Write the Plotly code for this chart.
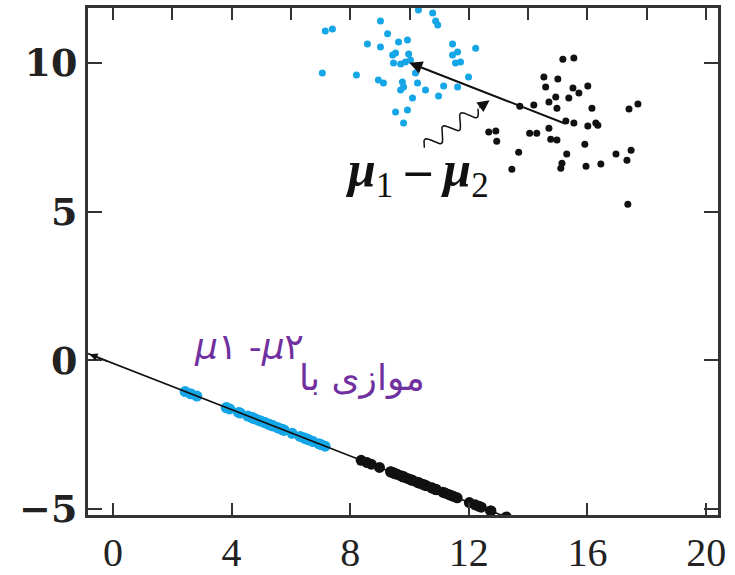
import numpy as np
import plotly.graph_objects as go

# ---- data ----
blue_x = [7.16, 7.40, 9.02, 10.30, 10.78, 10.88, 10.95, 9.26, 8.58, 9.02, 9.63, 9.93,
          9.53, 9.43, 9.97, 9.46, 9.70, 9.86, 10.03, 7.06, 8.21, 8.95, 9.12, 10.20,
          10.27, 9.76, 9.80, 9.70, 10.10, 10.54, 11.15, 10.98, 11.45, 11.62, 11.45,
          11.55, 11.72, 12.23, 11.99, 11.62, 9.93, 9.53, 9.80]
blue_y = [11.08, 11.14, 11.41, 11.78, 11.68, 11.41, 11.28, 10.98, 10.64, 10.54, 10.71, 10.77,
          10.34, 10.27, 10.30, 10.00, 9.97, 10.03, 10.10, 9.66, 9.60, 9.43, 9.33, 9.66,
          9.33, 9.36, 9.19, 9.09, 8.82, 9.09, 9.23, 8.89, 10.64, 10.37, 10.27,
          10.00, 10.03, 10.50, 9.53, 9.19, 8.42, 8.35, 7.98]

black_x = [15.17, 15.54, 14.53, 15.00, 14.59, 15.51, 15.71, 16.01, 15.37, 14.93, 14.70,
           14.97, 14.19, 13.72, 16.15, 17.40, 17.70, 15.27, 15.54, 16.01, 16.28, 16.35,
           12.67, 12.91, 12.94, 14.05, 14.29, 14.70, 14.76, 14.97, 15.91, 13.68, 15.30,
           16.96, 17.47, 17.33, 15.14, 15.10, 15.95, 16.45, 13.45, 17.36]
black_y = [10.13, 10.17, 9.53, 9.46, 9.19, 9.16, 8.99, 9.23, 8.82, 8.86, 8.69,
           8.48, 8.59, 8.55, 8.48, 8.45, 8.62, 8.05, 7.98, 7.88, 7.98, 7.91,
           7.68, 7.71, 7.37, 7.64, 7.64, 7.81, 7.44, 7.41, 7.27, 7.00, 6.94,
           6.94, 7.07, 6.73, 6.63, 6.46, 6.53, 6.60, 6.43, 5.25]

x_ticks = [0, 4, 8, 12, 16, 20]
x_top_ticks = [0, 2, 4, 6, 8, 10, 12, 14, 16, 18, 20]
y_ticks = [-5, 0, 5, 10]
line_y_at_x0 = -0.1   # where the projection line crosses x = 0

label_mu = "<b><i>μ</i></b><sub>1</sub> <b>–</b> <b><i>μ</i></b><sub>2</sub>"
note_math = "<i>μ</i>۱ -<i>μ</i>۲"
note_fa = "موازی با"

# ---- derived quantities ----
B = np.column_stack([blue_x, blue_y])
K = np.column_stack([black_x, black_y])
mu1 = B.mean(axis=0)
mu2 = K.mean(axis=0)
d = mu1 - mu2
u = d / np.linalg.norm(d)
p0 = np.array([0.0, line_y_at_x0])

def project(P):
    t = (P - p0) @ u
    return p0 + np.outer(t, u)

PB = project(B)
PK = project(K)
slope = u[1] / u[0]
lx = np.array([-0.84, 14.0])
ly = p0[1] + slope * (lx - p0[0])

BLUE = "#14A6E6"
INK = "#111111"
PURPLE = "#7030A0"

fig = go.Figure()
fig.add_trace(go.Scatter(x=lx, y=ly, mode="lines", line=dict(color=INK, width=1.6),
                         xaxis="x2", hoverinfo="skip", showlegend=False))
fig.add_trace(go.Scatter(x=PB[:, 0], y=PB[:, 1], mode="markers",
                         marker=dict(color=BLUE, size=11), showlegend=False))
fig.add_trace(go.Scatter(x=PK[:, 0], y=PK[:, 1], mode="markers",
                         marker=dict(color=INK, size=11), showlegend=False))
fig.add_trace(go.Scatter(x=blue_x, y=blue_y, mode="markers",
                         marker=dict(color=BLUE, size=7), showlegend=False))
fig.add_trace(go.Scatter(x=black_x, y=black_y, mode="markers",
                         marker=dict(color=INK, size=7), showlegend=False))

# wavy pointer from the label to the mean-difference arrow
S = np.array([10.5, 7.15])
E = np.array([12.7, 8.75])
seg = E - S
n = np.array([-seg[1], seg[0]]) / np.linalg.norm(seg)
s = np.linspace(0, 0.82, 90)
amp = 0.22 * np.sin(2 * np.pi * 3.0 * s / 0.82)
wx = S[0] + s * seg[0] + amp * n[0]
wy = S[1] + s * seg[1] + amp * n[1]
fig.add_trace(go.Scatter(x=wx, y=wy, mode="lines", line=dict(color=INK, width=1.5),
                         hoverinfo="skip", showlegend=False))

fig.add_annotation(x=E[0], y=E[1], ax=wx[-1], ay=wy[-1], xref="x", yref="y",
                   axref="x", ayref="y", showarrow=True, arrowhead=2, arrowsize=1.6,
                   arrowwidth=1.5, arrowcolor=INK, text="")
fig.add_annotation(x=mu1[0], y=mu1[1], ax=mu2[0], ay=mu2[1], xref="x", yref="y",
                   axref="x", ayref="y", showarrow=True, arrowhead=2, arrowsize=1.3,
                   arrowwidth=2, arrowcolor=INK, text="")
# small arrowhead where the projection line meets the left axis
fig.add_annotation(x=lx[0] + 0.05, y=ly[0] - 0.05 * slope * -1, ax=lx[0] + 0.7,
                   ay=ly[0] + 0.7 * slope, xref="x", yref="y", axref="x", ayref="y",
                   showarrow=True, arrowhead=2, arrowsize=1.0, arrowwidth=1.6,
                   arrowcolor=INK, text="")

fig.add_annotation(x=10.25, y=6.3, xref="x", yref="y", text=label_mu, showarrow=False,
                   font=dict(family="Liberation Serif", size=50, color=INK))
fig.add_annotation(x=4.6, y=0.45, xref="x", yref="y", text=note_math, showarrow=False,
                   font=dict(family="DejaVu Sans", size=36, color=PURPLE))
fig.add_annotation(x=8.4, y=-0.6, xref="x", yref="y", text=note_fa, showarrow=False,
                   font=dict(family="DejaVu Sans", size=36, color=PURPLE))

axis_common = dict(showgrid=False, zeroline=False, ticks="inside", tickwidth=2,
                   tickcolor="#333333", automargin=False)
fig.update_layout(
    width=735, height=575,
    margin=dict(l=88, r=17, t=8, b=60),
    paper_bgcolor="white", plot_bgcolor="white",
    xaxis=dict(range=[-0.84, 20.4], tickvals=x_ticks, ticklen=12, showline=True,
               linewidth=3, linecolor="#333333", mirror=True,
               tickfont=dict(family="Liberation Serif", size=40, color="#222222"),
               **axis_common),
    xaxis2=dict(overlaying="x", matches="x", side="top", tickvals=x_top_ticks,
                ticklen=12, showticklabels=False, showline=False, **axis_common),
    yaxis=dict(range=[-5.2, 11.85], tickvals=y_ticks, ticklen=14, showline=True,
               linewidth=3, linecolor="#333333", mirror="ticks",
               tickfont=dict(family="DejaVu Serif", size=38, color="#222222",
                             weight="bold"),
               **axis_common),
)

fig.write_html("out.html")
